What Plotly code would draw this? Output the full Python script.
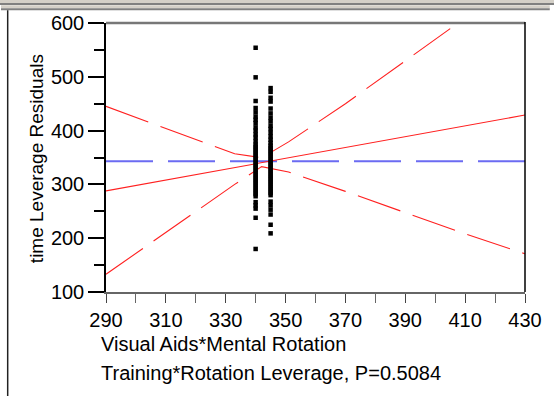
import plotly.graph_objects as go

# ---- data ----
group_x = [340, 345]
col1_y = [554, 499, 455, 442, 434, 426, 420, 414, 406, 400, 393, 387, 380, 374, 370,
          366, 362, 358, 354, 350, 346, 342, 338, 334, 330, 326, 322, 318, 314, 310,
          306, 302, 298, 294, 290, 286, 282, 278, 267, 261, 255, 238, 180]
col2_y = [479, 472, 461, 454, 441, 432, 424, 417, 409, 403, 396, 389, 383, 377, 372,
          368, 364, 360, 356, 352, 348, 344, 340, 336, 332, 328, 324, 320, 316, 312,
          308, 304, 300, 296, 292, 288, 284, 280, 268, 261, 253, 244, 225, 209]

fit_x = [290, 430]
fit_y = [288, 429]

band_x = [290, 333, 342, 351, 370, 390, 410, 430]
upper_y = [445, 357, 349.5, 379, 450, 530, 609, 689]
lower_y = [133, 300, 333, 323, 287, 248, 208, 171]

mean_x = [290, 430]
mean_y = [343, 343]

x_ticks = [290, 310, 330, 350, 370, 390, 410, 430]
y_ticks = [100, 200, 300, 400, 500, 600]

x_title_1 = "Visual Aids*Mental Rotation"
x_title_2 = "Training*Rotation Leverage, P=0.5084"
y_title = "time Leverage Residuals"

# ---- figure ----
FONT = "Liberation Sans, Arial, sans-serif"
W, H = 554, 398
L, R, T, B = 106, 529, 18, 292

def px_x(p):
    return (p - L) / (R - L)

def px_y(p):
    return (B - p) / (B - T)

fig = go.Figure()

fig.add_trace(go.Scatter(x=mean_x, y=mean_y, mode="lines",
                         line=dict(color="#6b6bf2", width=2, dash="47px,15px"),
                         hoverinfo="skip", showlegend=False))
fig.add_trace(go.Scatter(x=band_x, y=upper_y, mode="lines",
                         line=dict(color="#ff2020", width=1.1, dash="45px,13px"),
                         showlegend=False))
fig.add_trace(go.Scatter(x=band_x, y=lower_y, mode="lines",
                         line=dict(color="#ff2020", width=1.1, dash="45px,13px"),
                         showlegend=False))
fig.add_trace(go.Scatter(x=fit_x, y=fit_y, mode="lines",
                         line=dict(color="#ff2020", width=1.1),
                         showlegend=False))

pts_x = [group_x[0]] * len(col1_y) + [group_x[1]] * len(col2_y)
pts_y = col1_y + col2_y
fig.add_trace(go.Scatter(x=pts_x, y=pts_y, mode="markers",
                         marker=dict(color="black", size=4.5, symbol="square"),
                         showlegend=False))

fig.update_layout(
    width=W, height=H,
    margin=dict(l=L, r=W - R, t=T, b=H - B, pad=0),
    paper_bgcolor="rgba(0,0,0,0)", plot_bgcolor="white",
    font=dict(family=FONT, size=20, color="black"),
    xaxis=dict(range=[290, 430], tickvals=x_ticks, ticks="outside", ticklen=9,
               tickwidth=1.3, tickcolor="#444", showgrid=False, zeroline=False,
               showline=True, linecolor="#666", linewidth=1.5,
               minor=dict(dtick=10, tick0=290, ticks="outside", ticklen=9,
                          tickcolor="#666", tickwidth=1.3),
               tickfont=dict(size=20)),
    yaxis=dict(range=[100, 600], tickvals=y_ticks, ticks="outside", ticklen=16,
               tickwidth=2, tickcolor="black", showgrid=False, zeroline=False,
               showline=True, linecolor="black", linewidth=1.5,
               minor=dict(dtick=50, tick0=100, ticks="outside", ticklen=10,
                          tickcolor="black", tickwidth=2),
               tickfont=dict(size=20)),
)

shapes = [
    # plot frame top (gray) and right (black)
    dict(type="line", xref="paper", yref="paper", x0=0, x1=1, y0=1, y1=1,
         line=dict(color="#777", width=2.5)),
    dict(type="line", xref="paper", yref="paper", x0=1, x1=1, y0=0, y1=1.004,
         line=dict(color="black", width=1.5)),
    # outer window edges (drawn in page pixels)
    dict(type="rect", xref="paper", yref="paper", x0=px_x(0), x1=px_x(W),
         y0=px_y(3), y1=px_y(0), line=dict(width=0), fillcolor="#d4d0c8",
         layer="above"),
    dict(type="rect", xref="paper", yref="paper", x0=px_x(0), x1=px_x(W),
         y0=px_y(5), y1=px_y(3), line=dict(width=0), fillcolor="#808080",
         layer="above"),
    dict(type="rect", xref="paper", yref="paper", x0=px_x(6), x1=px_x(7.5),
         y0=px_y(H), y1=px_y(5), line=dict(width=0), fillcolor="#222",
         layer="above"),
]
fig.update_layout(shapes=shapes)

fig.add_annotation(text=y_title, xref="paper", yref="paper", x=px_x(36), y=px_y(156),
                   xanchor="center", yanchor="middle", textangle=-90, showarrow=False,
                   font=dict(size=19))
fig.add_annotation(text=x_title_1, xref="paper", yref="paper", x=px_x(99), y=px_y(345),
                   xanchor="left", yanchor="middle", showarrow=False, font=dict(size=20))
fig.add_annotation(text=x_title_2, xref="paper", yref="paper", x=px_x(99), y=px_y(374),
                   xanchor="left", yanchor="middle", showarrow=False, font=dict(size=20))

page_style = (
    "document.body.style.margin='0px';"
    "document.body.style.overflow='hidden';"
    "document.body.style.background='linear-gradient(to bottom, #d4d0c8 0px, #d4d0c8 3px, "
    "#808080 3px, #808080 5px, #ffffff 5px, #ffffff 100%)';"
)
fig.write_html("out.html", config={"displayModeBar": False}, post_script=page_style)
